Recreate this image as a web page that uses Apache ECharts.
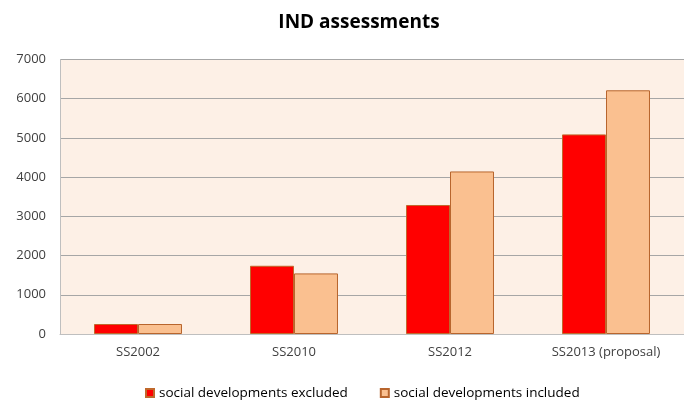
<!DOCTYPE html>
<html>
<head>
<meta charset="utf-8">
<script src="https://cdn.jsdelivr.net/npm/echarts@6/dist/echarts.min.js"></script>
<style>
  html, body { margin: 0; padding: 0; background: #fff; }
  #chart { width: 684px; height: 401px; }
</style>
</head>
<body>
<div id="chart"></div>
<script>
var categories = ['SS2002', 'SS2010', 'SS2012', 'SS2013 (proposal)'];
var excluded = [255, 1740, 3290, 5090];
var included = [255, 1545, 4145, 6215];
var seriesNames = ['social developments excluded', 'social developments included'];

var myChart = echarts.init(document.getElementById('chart'));
var font = 'Open Sans';

var option = {
  backgroundColor: '#fff',
  title: {
    text: 'IND assessments',
    left: 354,
    textAlign: 'center',
    top: 8,
    textStyle: { fontFamily: font, fontSize: 19, fontWeight: 'bold', color: '#000' }
  },
  legend: {
    top: 381,
    left: 140,
    itemWidth: 8,
    itemHeight: 8,
    itemGap: 32,
    icon: 'rect',
    textStyle: { fontFamily: font, fontSize: 13.5, color: '#000' },
    data: seriesNames
  },
  grid: {
    left: 60,
    right: 0,
    top: 59.5,
    bottom: 67,
    show: true,
    backgroundColor: '#fdf0e6',
    borderWidth: 0
  },
  xAxis: {
    type: 'category',
    data: categories,
    axisLine: { lineStyle: { color: '#bfbfbf', width: 1 } },
    axisTick: { show: false },
    axisLabel: { fontFamily: font, fontSize: 13, color: '#404040', margin: 12 }
  },
  yAxis: {
    type: 'value',
    min: 0,
    max: 7000,
    interval: 1000,
    axisLine: { show: true, lineStyle: { color: '#bfbfbf' } },
    axisTick: { show: false },
    axisLabel: {
      fontFamily: font, fontSize: 13, color: '#404040', margin: 14,
      formatter: function (v) { return String(v); }
    },
    splitLine: { lineStyle: { color: '#a6a6a6' } }
  },
  series: [
    {
      name: seriesNames[0],
      type: 'bar',
      data: excluded,
      barGap: '0%',
      barCategoryGap: '43.6%',
      itemStyle: { color: '#ff0000', borderColor: '#c0682c', borderWidth: 1 }
    },
    {
      name: seriesNames[1],
      type: 'bar',
      data: included,
      itemStyle: { color: '#fac090', borderColor: '#b8652d', borderWidth: 1 }
    }
  ]
};

myChart.setOption(option);
window.addEventListener('resize', myChart.resize);
</script>
</body>
</html>
